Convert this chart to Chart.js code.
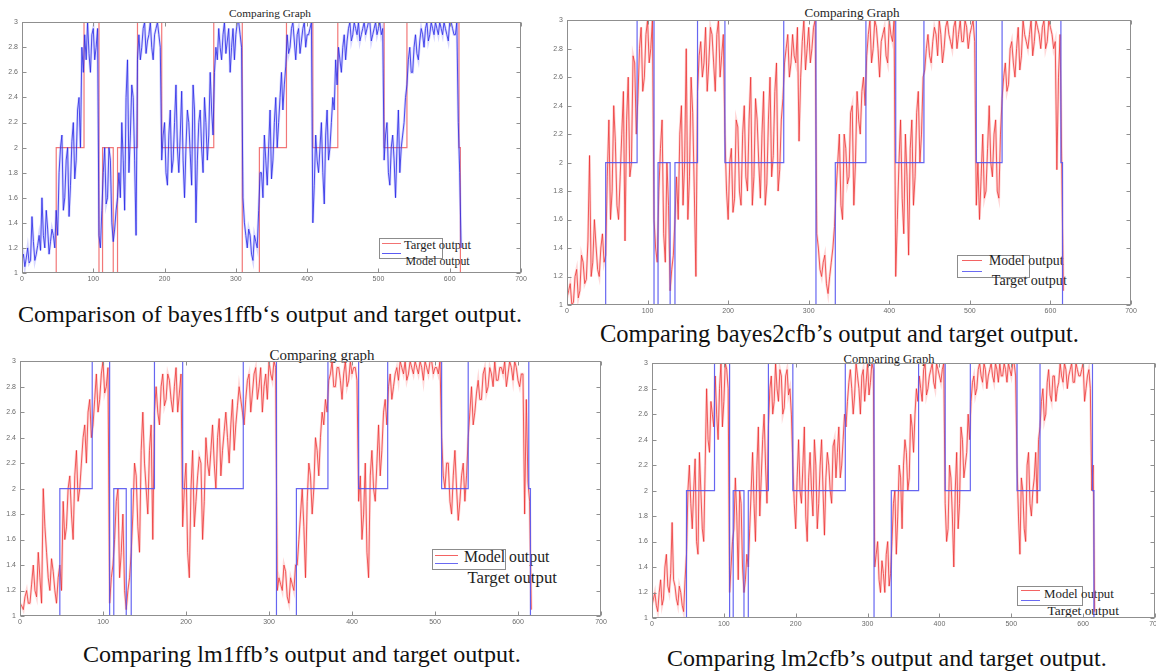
<!DOCTYPE html>
<html><head><meta charset="utf-8">
<script src="https://cdn.jsdelivr.net/npm/chart.js@4.4.1/dist/chart.umd.min.js"></script>
<style>
html,body{margin:0;padding:0;background:#fff;overflow:hidden;width:1156px;height:671px;}
body{position:relative;}
canvas{position:absolute;}
.t{position:absolute;white-space:nowrap;font-family:"Liberation Serif","Times New Roman",serif;color:#1e1e1e;line-height:1;transform:translateY(-50%);}
.c{transform:translate(-50%,-50%);}
.cap{color:#111;}
.lg{position:absolute;border:1px solid #8c8c8c;background:#fff;box-sizing:border-box;}
.ls{position:absolute;height:0;border-top:1.5px solid;}
</style></head><body>

<!-- panel 1 texts -->
<div class="t c" style="left:270px;top:14.3px;font-size:12px" data-w="82">Comparing Graph</div>
<div class="t cap" id="cap1" style="left:18px;top:313.5px;font-size:21px">Comparison of bayes1ffb‘s output and target output.</div>
<div class="lg" style="left:378.5px;top:237.5px;width:64px;height:21px"></div>
<div class="ls" style="left:382px;top:242.5px;width:19px;border-color:rgba(240,90,90,0.85)"></div>
<div class="ls" style="left:382px;top:253px;width:19px;border-color:rgba(50,50,240,0.8)"></div>
<div class="t" style="left:404px;top:245.4px;font-size:12px" data-w="67">Target output</div>
<div class="t" style="left:405.6px;top:261.7px;font-size:12px" data-w="64">Model output</div>

<!-- panel 2 texts -->
<div class="t c" style="left:852px;top:12.6px;font-size:12px" data-w="95">Comparing Graph</div>
<div class="t cap" style="left:600px;top:333.8px;font-size:21px" data-w="479">Comparing bayes2cfb’s output and target output.</div>
<div class="lg" style="left:957px;top:254.8px;width:72.5px;height:23.4px"></div>
<div class="ls" style="left:962px;top:260px;width:20px;border-color:rgba(240,60,60,0.8)"></div>
<div class="ls" style="left:962px;top:271.2px;width:20px;border-color:rgba(80,80,240,0.85)"></div>
<div class="t" style="left:989px;top:260.5px;font-size:13px" data-w="74.5">Model output</div>
<div class="t" style="left:991.8px;top:279.9px;font-size:13px" data-w="75">Target output</div>

<!-- panel 3 texts -->
<div class="t c" style="left:322px;top:355.3px;font-size:14px" data-w="105">Comparing graph</div>
<div class="t cap" id="cap3" style="left:83px;top:653.5px;font-size:21px" data-w="438">Comparing lm1ffb’s output and target output.</div>
<div class="lg" style="left:431.7px;top:549.4px;width:74px;height:20.7px"></div>
<div class="ls" style="left:435px;top:554.5px;width:23px;border-color:rgba(240,60,60,0.8)"></div>
<div class="ls" style="left:435px;top:562.5px;width:23px;border-color:rgba(80,80,240,0.85)"></div>
<div class="t" style="left:464px;top:557.4px;font-size:15px" data-w="85.5">Model output</div>
<div class="t" style="left:467.4px;top:577.8px;font-size:15px" data-w="89.6">Target output</div>

<!-- panel 4 texts -->
<div class="t c" style="left:889px;top:358.7px;font-size:12px" data-w="91">Comparing Graph</div>
<div class="t cap" style="left:667px;top:658px;font-size:21px" data-w="440">Comparing lm2cfb’s output and target output.</div>
<div class="lg" style="left:1017px;top:585.7px;width:66px;height:20.6px"></div>
<div class="ls" style="left:1021px;top:589.8px;width:19px;border-color:rgba(240,60,60,0.8)"></div>
<div class="ls" style="left:1021px;top:599.9px;width:19px;border-color:rgba(80,80,240,0.85)"></div>
<div class="t" style="left:1044px;top:594px;font-size:12px" data-w="70">Model output</div>
<div class="t" style="left:1047.5px;top:611.4px;font-size:12px" data-w="71.5">Target output</div>

<script>
// ---------- data ----------
// model outputs read every 2 samples: "even" arrays at samples 0,4,8,...; "mid" arrays at samples 2,6,10,...
const SAMPLE_STEP = 2;
const xTicks = [0, 100, 200, 300, 400, 500, 600, 700];
const xTickLabels = ['0', '100', '200', '300', '400', '500', '600', '700'];
const yTicks = [1, 1.2, 1.4, 1.6, 1.8, 2, 2.2, 2.4, 2.6, 2.8, 3];
const yTickLabels = ['1', '1.2', '1.4', '1.6', '1.8', '2', '2.2', '2.4', '2.6', '2.8', '3'];

// target output: level changes (sample index, class level)
const targetX = [0, 48, 87, 108, 113, 128, 134, 162, 196, 269, 309, 333, 371, 408, 443, 508, 540, 613, 615, 617];
const targetY = [1, 2, 3, 1, 2, 1, 2, 3, 2, 3, 1, 2, 3, 2, 3, 2, 3, 2, 1, 1];

const bayes1Even = [
  1.1, 1.05, 1.2, 1.1, 1.25, 1.15, 1.3, 1.6, 1.2, 1.35, 1.25, 1.3,
  1.5, 1.8, 2.1, 1.6, 2.0, 1.7, 2.2, 1.9, 2.4, 2.8,
  2.9, 3.0, 2.6, 2.95, 2.8,
  1.3, 1.5,
  2.0, 1.6, 1.9,
  1.25, 1.5,
  1.8, 2.2, 1.5, 2.7, 2.1, 2.4, 1.3,
  2.9, 2.8, 3.0, 2.85, 3.0, 2.7, 2.95, 2.9,
  1.9, 2.2, 1.7, 2.3, 1.9, 2.5, 1.8, 2.45, 1.6, 2.3, 1.95, 2.5, 1.4, 2.2, 2.0, 2.4, 1.9, 2.6, 2.1,
  2.8, 2.95, 2.7, 3.0, 2.85, 2.6, 2.95, 2.9, 3.0, 2.8,
  1.4, 1.2, 1.3, 1.1, 1.25, 1.5,
  1.8, 2.1, 1.7, 2.3, 1.9, 2.4, 2.2, 2.6, 2.5,
  2.9, 2.8, 3.0, 2.7, 2.95, 2.85, 3.0, 2.9, 2.95,
  1.4, 2.1, 1.8, 2.2, 1.55, 2.3, 2.0, 2.4, 2.7,
  2.8, 2.6, 2.9, 2.85, 3.0, 2.9, 2.95, 3.0, 2.9, 3.0, 2.95, 3.0, 2.9, 3.0, 2.95, 2.9,
  1.9, 2.2, 1.7, 2.1, 1.6, 2.3, 2.0, 2.2,
  2.5, 2.8, 2.6, 2.9, 2.7, 2.95, 2.8, 3.0, 2.9, 2.95, 3.0, 2.9, 2.95, 3.0, 2.9, 3.0, 2.95, 2.9,
  2.2, 1.2
];
const bayes1Mid = [
  1.15, 1.12, 1.08, 1.45, 1.1, 1.22, 1.18, 1.3, 1.5, 1.15, 1.35, 1.2,
  1.3, 2.0, 1.5, 1.9, 1.45, 2.05, 1.75, 2.3, 2.0, 2.6,
  2.7, 2.75, 2.9, 2.7, 2.95,
  1.2,
  1.8, 1.55, 2.0, 1.4,
  1.35,
  1.6,
  1.6, 1.9, 2.4, 1.8, 2.5, 1.9,
  2.7,
  2.7, 2.95, 2.75, 2.9, 2.8, 2.9, 3.0, 2.8,
  2.1, 1.8, 2.1, 1.8, 2.2, 2.0, 2.1, 1.9, 2.0, 2.2, 1.7, 2.3, 1.9, 2.3, 1.8, 2.2, 2.1, 2.3,
  2.6,
  2.7, 2.8, 2.9, 2.75, 2.95, 2.8, 2.7, 3.0, 2.9,
  1.6,
  1.3, 1.35, 1.15, 1.3, 1.2,
  1.8, 1.6, 1.9, 2.0, 1.75, 2.2, 2.0, 2.4, 2.3,
  2.65,
  2.75, 2.95, 2.85, 2.9, 2.75, 2.95, 2.8, 2.9, 3.0,
  1.7, 1.9, 2.0, 1.8, 2.1, 1.9, 2.2, 2.3, 2.5,
  2.7, 2.8, 2.7, 2.95, 2.85, 3.0, 2.9, 2.85, 2.95, 2.9, 3.0, 2.85, 2.95, 2.9, 3.0, 2.95,
  2.1, 1.8, 2.0, 1.9, 2.0, 1.8, 2.1, 2.4,
  2.7, 2.6, 2.8, 2.75, 2.85, 2.9, 2.95, 2.85, 3.0, 2.9, 2.95, 3.0, 2.9, 2.95, 2.85, 3.0, 2.9, 3.0,
  1.8
];

const bayes2Even = [
  1.05, 1.15, 1.02, 1.25, 1.1, 1.3, 1.18, 2.05, 1.3, 1.42, 1.2, 1.5,
  1.35, 2.3, 1.8, 2.15, 1.6, 2.2, 1.45, 2.6, 2.0, 2.7,
  2.45, 2.95, 2.6, 3.0, 2.8,
  1.6, 1.3,
  2.1, 1.5, 2.0,
  1.1, 1.35,
  1.9, 2.2, 1.7, 2.8, 1.9, 2.35, 1.2,
  2.75, 2.6, 2.95, 2.7, 2.9, 2.5, 3.0, 2.75,
  2.2, 1.6, 2.1, 1.75, 2.25, 1.7, 2.4, 1.8, 2.6, 1.9, 2.3, 1.75, 2.5, 1.85, 2.6, 2.05, 2.7, 1.95, 2.45,
  2.8, 2.6, 2.9, 2.7, 2.15, 2.85, 2.65, 2.95, 2.8, 3.0,
  1.4, 1.2, 1.35, 1.08, 1.3, 1.55,
  2.0, 1.7, 2.2, 1.85, 2.35, 1.7, 2.5, 2.2, 2.6,
  2.75, 3.0, 2.8, 2.95, 2.6, 2.9, 2.75, 3.0, 2.85,
  1.2, 2.0, 1.75, 2.2, 1.35, 2.3, 1.9, 2.5, 2.2,
  2.65, 2.9, 2.7, 2.95, 2.75, 2.9, 2.8, 3.0, 2.85, 2.95, 2.8, 3.0, 2.85, 2.95, 2.9, 3.0,
  1.7, 1.6, 2.2, 1.8, 2.4, 1.9, 2.3, 1.75,
  2.45, 2.7, 2.55, 2.85, 2.6, 2.95, 2.75, 2.9, 2.8, 3.0, 2.85, 2.95, 2.8, 3.0, 2.85, 2.95, 2.8, 1.95,
  2.9, 1.1
];
const bayes2Mid = [
  1.1, 1.0, 1.2, 1.05, 1.35, 1.15, 1.45, 1.2, 1.6, 1.25, 1.4, 1.3,
  1.9, 1.6, 2.4, 1.7, 1.9, 2.5, 2.3, 1.9, 2.75, 2.2,
  2.8, 2.5, 2.9, 2.7, 3.0,
  1.4,
  1.8, 2.3, 1.3, 1.7,
  1.25,
  1.6,
  1.6, 2.4, 2.0, 1.6, 2.6, 1.8,
  2.5,
  2.85, 2.7, 2.5, 2.95, 2.7, 2.9, 2.6, 2.9,
  1.8, 2.0, 1.65, 2.3, 1.8, 2.2, 1.9, 2.3, 1.7, 2.45, 2.0, 2.2, 1.7, 2.3, 1.9, 2.5, 1.8, 2.3,
  2.7,
  2.9, 2.7, 2.75, 2.95, 2.6, 3.0, 2.8, 2.7, 2.95,
  1.5,
  1.25, 1.3, 1.15, 1.2, 1.4,
  1.8, 2.2, 1.6, 2.1, 1.9, 2.4, 2.0, 2.3, 2.5,
  2.4,
  2.9, 2.7, 3.0, 2.8, 2.85, 2.95, 2.7, 2.9, 3.0,
  1.6, 2.3, 1.5, 1.9, 2.1, 1.7, 2.35, 2.0, 2.6,
  2.8, 2.75, 2.85, 2.9, 3.0, 2.7, 2.95, 2.9, 2.8, 3.0, 2.9, 2.85, 3.0, 2.8, 2.95, 2.85,
  2.0, 1.9, 1.75, 2.1, 2.0, 2.2, 1.8, 2.2,
  2.6, 2.5, 2.8, 2.7, 2.8, 2.65, 3.0, 2.85, 2.9, 2.75, 3.0, 2.9, 2.95, 2.8, 3.0, 2.9, 2.85, 2.6,
  2.0
];

const lm1Even = [
  1.1, 1.05, 1.2, 1.1, 1.4, 1.15, 1.3, 2.0, 1.5, 1.2, 1.35, 1.1,
  1.4, 1.9, 1.7, 2.1, 1.6, 2.3, 2.0, 2.4, 2.2, 2.7,
  2.5, 2.9, 2.7, 3.0, 2.8,
  1.1, 1.4,
  1.9, 1.3, 1.8,
  1.05, 1.3,
  1.8, 2.1, 1.5, 2.6, 2.0, 2.3, 1.6,
  2.8, 2.5, 2.9, 2.7, 2.85, 2.6, 2.95, 2.75,
  1.7, 2.2, 1.3, 2.3, 1.9, 2.25, 1.6, 2.4, 2.1, 2.5, 2.0, 2.55, 2.3, 2.6, 2.2, 2.7, 2.5, 2.8, 2.6,
  2.7, 2.9, 2.75, 2.95, 2.8, 2.6, 2.9, 3.0, 2.85, 2.95,
  1.3, 1.2, 1.35, 1.1, 1.25, 1.4,
  1.6, 2.0, 1.3, 2.2, 1.8, 2.4, 2.1, 2.6, 2.7,
  2.85, 3.0, 2.8, 2.95, 2.7, 3.0, 2.85, 2.9, 2.95,
  1.9, 1.6, 2.2, 1.3, 2.3, 1.9, 2.5, 2.3, 2.7,
  2.8, 2.7, 2.9, 2.85, 2.95, 3.0, 2.9, 2.95, 3.0, 2.9, 2.95, 3.0, 2.9, 3.0, 2.95, 2.9,
  2.4, 2.0, 2.2, 1.8, 2.3, 1.75, 2.1, 1.9,
  2.4, 2.8, 2.6, 2.85, 2.7, 2.95, 2.8, 2.9, 3.0, 2.85, 2.95, 3.0, 2.9, 2.95, 3.0, 2.85, 2.9, 1.8,
  2.05, 1.05
];
const lm1Mid = [
  1.08, 1.15, 1.1, 1.25, 1.2, 1.5, 1.1, 1.7, 1.3, 1.45, 1.2, 1.3,
  1.2, 1.6, 2.0, 1.8, 2.1, 1.9, 2.2, 2.5, 2.6, 2.4,
  2.7, 2.6, 2.9, 2.75, 2.95,
  1.3,
  1.6, 2.0, 1.5, 1.2,
  1.2,
  1.5,
  2.2, 1.7, 2.3, 2.2, 1.8, 2.5,
  2.6,
  2.6, 2.8, 2.65, 2.9, 2.7, 2.8, 2.6, 2.9,
  2.0, 1.5, 2.0, 1.7, 2.1, 2.2, 1.9, 2.2, 2.3, 2.2, 2.4, 2.1, 2.45, 2.4, 2.5, 2.3, 2.65, 2.7,
  2.5,
  2.85, 2.6, 2.9, 2.7, 2.95, 2.8, 2.7, 2.9, 3.0,
  1.2,
  1.25, 1.4, 1.15, 1.3, 1.2,
  1.4, 1.8, 1.7, 1.9, 2.1, 2.0, 2.3, 2.4, 2.5,
  2.6,
  2.9, 2.8, 2.95, 2.85, 2.9, 2.8, 3.0, 2.95, 2.85,
  2.1, 1.8, 1.5, 2.1, 2.0, 2.2, 2.1, 2.6, 2.5,
  2.9, 2.8, 2.95, 3.0, 2.9, 2.85, 3.0, 2.9, 2.95, 3.0, 2.85, 2.95, 3.0, 2.9, 2.95, 3.0,
  2.1, 2.2, 1.9, 2.1, 2.0, 1.9, 2.2, 2.1,
  2.6, 2.5, 2.75, 2.7, 2.9, 2.75, 2.95, 2.8, 2.85, 2.95, 2.9, 2.8, 3.0, 2.85, 2.95, 2.8, 2.9, 2.7,
  1.9
];

const lm2Even = [
  1.1, 1.2, 1.05, 1.3, 1.15, 1.5, 1.2, 1.75, 1.25, 1.1, 1.2, 1.05,
  1.5, 2.2, 1.7, 2.25, 1.5, 2.0, 1.6, 2.8, 2.3, 2.6,
  2.9, 2.4, 3.0, 2.7, 2.95,
  1.2, 1.6,
  2.1, 1.3, 1.9,
  1.2, 1.5,
  1.7, 2.3, 1.6, 2.5, 2.1, 2.6, 1.9,
  2.8, 2.6, 3.0, 2.7, 2.9, 2.65, 2.95, 2.8,
  2.2, 1.7, 2.4, 1.9, 2.5, 1.6, 2.3, 1.8, 2.2, 1.9, 2.4, 1.65, 2.3, 2.0, 2.35, 2.1, 2.5, 2.2, 2.6,
  2.7, 2.95, 2.6, 3.0, 2.8, 2.9, 2.7, 3.0, 2.85, 2.95,
  1.5, 1.3, 1.45, 1.2, 1.6, 1.35,
  1.9, 1.5, 2.2, 1.7, 2.4, 2.0, 2.6, 2.3, 2.8,
  2.9, 2.7, 3.0, 2.8, 2.95, 2.85, 3.0, 2.9, 2.95,
  1.9, 1.7, 2.1, 1.4, 2.3, 1.9, 2.4, 2.2, 2.6,
  2.7, 2.9, 2.8, 3.0, 2.85, 2.95, 2.9, 3.0, 2.85, 2.95, 3.0, 2.9, 2.95, 3.0, 2.9, 3.0,
  2.2, 1.5, 2.0, 1.6, 2.3, 1.8, 2.1, 1.9,
  2.5, 2.8, 2.6, 2.95, 2.7, 2.9, 2.8, 3.0, 2.85, 2.95, 2.9, 3.0, 2.85, 2.95, 2.9, 3.0, 2.8, 2.95,
  2.0, 1.05
];
const lm2Mid = [
  1.15, 1.1, 1.2, 1.1, 1.4, 1.25, 1.35, 1.3, 1.15, 1.25, 1.1, 1.3,
  2.0, 1.9, 2.0, 1.6, 2.3, 1.7, 2.2, 2.4, 2.7, 2.5,
  2.6, 2.8, 2.5, 3.0, 2.8,
  1.4,
  1.7, 1.8, 2.0, 1.4,
  1.3,
  1.4,
  2.0, 1.9, 2.2, 1.8, 2.4, 2.2,
  2.5,
  2.9, 2.7, 2.8, 2.95, 2.6, 2.9, 2.75, 2.6,
  1.9, 2.1, 2.0, 2.2, 1.8, 2.1, 2.0, 2.4, 1.7, 2.2, 2.0, 2.1, 2.2, 1.9, 2.4, 2.3, 2.1, 2.4,
  2.5,
  2.85, 2.8, 2.75, 2.9, 2.6, 2.95, 2.85, 2.75, 3.0,
  1.4,
  1.6, 1.2, 1.35, 1.5, 1.25,
  1.6, 2.0, 1.8, 2.1, 2.2, 2.3, 2.1, 2.5, 2.6,
  2.7,
  2.8, 2.95, 2.75, 2.9, 3.0, 2.8, 2.95, 2.85, 3.0,
  1.6, 2.2, 1.8, 2.0, 1.7, 2.5, 2.1, 2.3, 2.4,
  2.85, 2.75, 2.95, 2.9, 3.0, 2.8, 2.95, 2.9, 3.0, 2.85, 2.9, 3.0, 2.85, 2.95, 3.0, 2.9,
  1.8, 2.1, 1.7, 2.2, 1.9, 2.0, 2.3, 2.4,
  2.7, 2.55, 2.85, 2.75, 2.9, 2.7, 2.85, 2.9, 3.0, 2.8, 2.95, 2.85, 3.0, 2.9, 2.95, 2.7, 2.9, 2.8,
  2.2
];

// interleave the two readings into one series per model
function interleave(even, mid) {
  const out = [];
  even.forEach((v, i) => { out.push(v); if (i < mid.length) out.push(mid[i]); });
  if (mid.length !== even.length - 1) console.error('length mismatch', even.length, mid.length);
  return out;
}

// ---------- layout (plot-area rectangles in page pixels) ----------
const AX_W = 24, AX_H = 14, PAD_T = 8, PAD_R = 12;
const panels = [
  {L: 22,  R: 521,  T: 22,  B: 273, even: bayes1Even, mid: bayes1Mid, modelColor: 'rgba(40,40,230,0.8)', haloColor: 'rgba(110,110,255,0.28)', targetColor: 'rgba(240,95,95,0.85)', modelOnTop: true},
  {L: 567, R: 1131, T: 20,  B: 305, even: bayes2Even, mid: bayes2Mid, modelColor: 'rgba(235,45,45,0.75)', haloColor: 'rgba(255,120,120,0.28)', targetColor: 'rgba(85,85,240,0.9)', modelOnTop: false},
  {L: 20,  R: 601,  T: 361, B: 616, even: lm1Even, mid: lm1Mid, modelColor: 'rgba(235,45,45,0.75)', haloColor: 'rgba(255,120,120,0.28)', targetColor: 'rgba(85,85,240,0.9)', modelOnTop: false},
  {L: 652, R: 1155, T: 363, B: 618, even: lm2Even, mid: lm2Mid, modelColor: 'rgba(235,45,45,0.75)', haloColor: 'rgba(255,120,120,0.28)', targetColor: 'rgba(85,85,240,0.9)', modelOnTop: false}
];

const matlabBox = {
  id: 'matlabBox',
  afterDatasetsDraw(chart) {
    const {ctx, chartArea: a, scales: {x, y}} = chart;
    ctx.save();
    ctx.strokeStyle = '#8f8f8f';
    ctx.lineWidth = 1;
    const l = Math.round(a.left) + 0.5, t = Math.round(a.top) + 0.5;
    const r = Math.round(a.right) - 0.5, b = Math.round(a.bottom) - 0.5;
    ctx.strokeRect(l, t, r - l, b - t);
    const tl = 4;
    ctx.beginPath();
    x.ticks.forEach(tk => {
      const px = Math.round(x.getPixelForValue(tk.value)) + 0.5;
      ctx.moveTo(px, b); ctx.lineTo(px, b - tl);
      ctx.moveTo(px, t); ctx.lineTo(px, t + tl);
    });
    y.ticks.forEach(tk => {
      const py = Math.round(y.getPixelForValue(tk.value)) + 0.5;
      ctx.moveTo(l, py); ctx.lineTo(l + tl, py);
      ctx.moveTo(r, py); ctx.lineTo(r - tl, py);
    });
    ctx.stroke();
    ctx.restore();
  }
};

panels.forEach(p => {
  const cv = document.createElement('canvas');
  const w = p.R - p.L + AX_W + PAD_R, h = p.B - p.T + PAD_T + AX_H;
  cv.width = w; cv.height = h;
  cv.style.left = (p.L - AX_W) + 'px';
  cv.style.top = (p.T - PAD_T) + 'px';
  cv.style.width = w + 'px'; cv.style.height = h + 'px';
  document.body.appendChild(cv);
  const model = interleave(p.even, p.mid);
  const modelPts = model.map((v, i) => ({x: i * SAMPLE_STEP, y: v}));
  const targetPts = targetX.map((xv, i) => ({x: xv, y: targetY[i]}));
  const tickFont = {size: 7, family: '"Liberation Sans", Arial, sans-serif'};
  new Chart(cv, {
    type: 'line',
    data: {datasets: [
      {data: modelPts, borderColor: p.modelColor, borderWidth: 1, pointRadius: 0, tension: 0, order: p.modelOnTop ? 0 : 2},
      {data: modelPts, borderColor: p.haloColor, borderWidth: 2.6, pointRadius: 0, tension: 0, order: p.modelOnTop ? 1 : 3},
      {data: targetPts, borderColor: p.targetColor, borderWidth: 1.2, pointRadius: 0, stepped: 'before', order: p.modelOnTop ? 2 : 0}
    ]},
    options: {
      responsive: false, animation: false, events: [],
      layout: {padding: {top: PAD_T, right: PAD_R, left: 0, bottom: 0}},
      plugins: {legend: {display: false}, title: {display: false}, tooltip: {enabled: false}},
      scales: {
        x: {type: 'linear', min: 0, max: 700,
            grid: {display: false, drawTicks: false}, border: {display: false},
            afterBuildTicks: s => { s.ticks = xTicks.map(v => ({value: v})); },
            afterFit: s => { s.height = AX_H; },
            ticks: {font: tickFont, color: '#6a6a6a', padding: 2, maxRotation: 0, autoSkip: false,
                    callback: (v, i) => xTickLabels[i]}},
        y: {type: 'linear', min: 1, max: 3,
            grid: {display: false, drawTicks: false}, border: {display: false},
            afterBuildTicks: s => { s.ticks = yTicks.map(v => ({value: v})); },
            afterFit: s => { s.width = AX_W; },
            ticks: {font: tickFont, color: '#6a6a6a', padding: 4, autoSkip: false,
                    callback: (v, i) => yTickLabels[i]}}
      }
    },
    plugins: [matlabBox]
  });
});

// fit text widths to the reference
document.querySelectorAll('[data-w]').forEach(el => {
  const w = el.getBoundingClientRect().width;
  const fs = parseFloat(el.style.fontSize);
  el.style.fontSize = (fs * parseFloat(el.dataset.w) / w).toFixed(2) + 'px';
});
document.getElementById('cap1').style.fontSize = document.getElementById('cap3').style.fontSize;
</script>
</body></html>
